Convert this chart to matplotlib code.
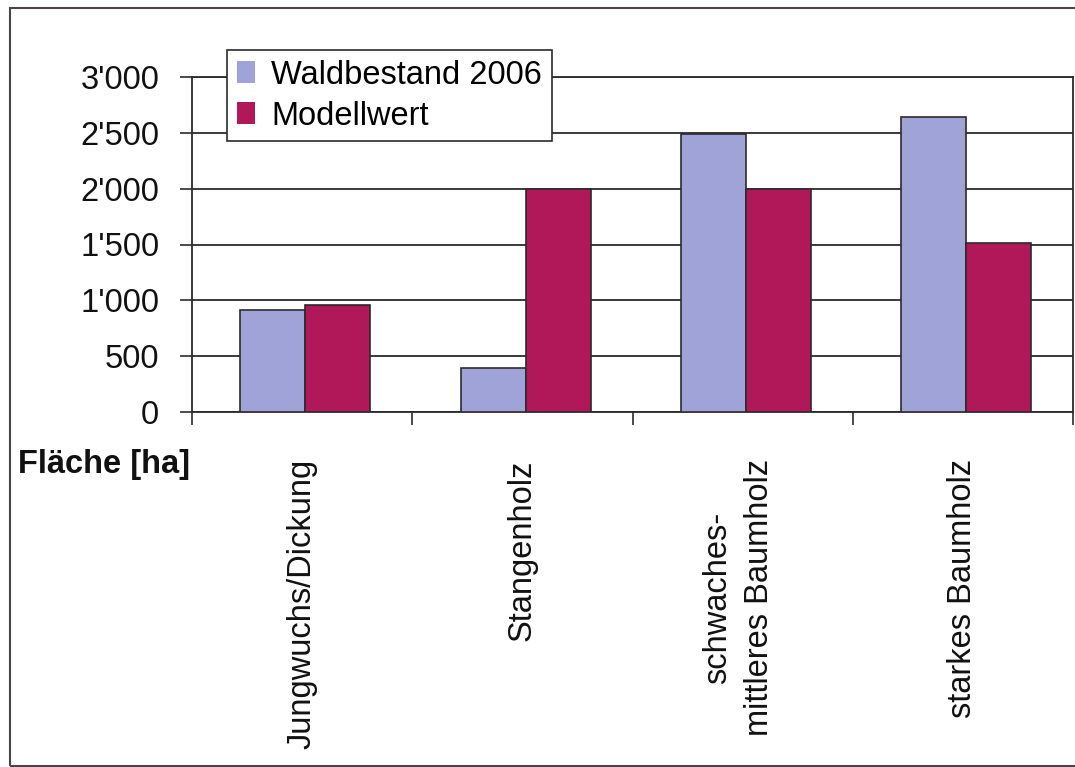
import matplotlib
matplotlib.use("Agg")
import matplotlib.pyplot as plt
from matplotlib.patches import Patch, Rectangle
from matplotlib.ticker import FixedLocator, FuncFormatter, NullFormatter

plt.rcParams["font.family"] = ["Liberation Sans", "DejaVu Sans"]

# Area per development stage (ha)
categories = ["Jungwuchs/Dickung", "Stangenholz", "schwaches-\nmittleres Baumholz", "starkes Baumholz"]
waldbestand_2006 = [910, 395, 2490, 2645]
modellwert = [955, 2000, 2000, 1510]
series_names = ["Waldbestand 2006", "Modellwert"]
y_ticks = [0, 500, 1000, 1500, 2000, 2500, 3000]

col_wald = "#a0a3d8"
col_modell = "#b0185a"
dark = "#2b2b2b"
fs = 23.5

W, H, DPI = 1075, 767, 100
fig = plt.figure(figsize=(W / DPI, H / DPI), dpi=DPI)
fig.patch.set_facecolor("white")

ax = fig.add_axes([192 / W, 1 - 412 / H, (1073 - 192) / W, (412 - 77) / H])

n = len(categories)
centers = [i + 0.5 for i in range(n)]
bw = 0.295
ax.bar([c - bw / 2 + 0.015 for c in centers], waldbestand_2006, width=bw,
       color=col_wald, edgecolor=dark, linewidth=1.2, zorder=3)
ax.bar([c + bw / 2 + 0.015 for c in centers], modellwert, width=bw,
       color=col_modell, edgecolor=dark, linewidth=1.2, zorder=3)

ax.set_xlim(0, n)
ax.set_ylim(0, 3000)
ax.set_axisbelow(True)

# y axis with apostrophe thousands separator
ax.yaxis.set_major_locator(FixedLocator(y_ticks))
ax.yaxis.set_major_formatter(FuncFormatter(lambda v, p: f"{int(v):,}".replace(",", "'")))
ax.tick_params(axis="y", direction="out", length=8.6, width=1.2, color=dark,
               pad=15, labelsize=fs, labelcolor="#111111")
ax.yaxis.grid(True, color=dark, linewidth=1.3)

# category boundary ticks on the x axis
ax.xaxis.set_major_locator(FixedLocator(list(range(n + 1))))
ax.xaxis.set_major_formatter(NullFormatter())
ax.tick_params(axis="x", direction="out", length=9.4, width=1.2, color=dark)

for s in ax.spines.values():
    s.set_color(dark)
    s.set_linewidth(1.3)

# rotated category labels, top-aligned below the axis
for c, lab in zip(centers, categories):
    ax.annotate(lab, xy=(c, 0), xycoords=("data", "axes fraction"),
                xytext=(-3 if "\n" in lab else 0, -34), textcoords="offset points",
                rotation=90, ha="center", va="top", multialignment="center",
                fontsize=fs, color="#111111", linespacing=1.45)

fig.text(18 / W, 1 - 473 / H, "Fläche [ha]", fontsize=fs, fontweight="bold",
         color="#111111", va="baseline", ha="left")

handles = [Patch(facecolor=col_wald, edgecolor="none"),
           Patch(facecolor=col_modell, edgecolor="none")]
leg = ax.legend(handles, series_names, loc="upper left",
                bbox_to_anchor=(227 / W, 1 - 50 / H), bbox_transform=fig.transFigure,
                borderaxespad=0, fontsize=fs, frameon=True, fancybox=False,
                framealpha=1, edgecolor=dark, handlelength=0.55, handleheight=0.65,
                handletextpad=0.5, labelspacing=0.3, borderpad=0.3)
leg.get_frame().set_linewidth(1.2)
leg.set_zorder(5)

# outer border of the figure
fig.patches.append(Rectangle((10 / W, 1 / H), 1.0, (766 - 8) / H,
                             transform=fig.transFigure, fill=False,
                             edgecolor="#4a4448", linewidth=1.5))

fig.savefig("out.png", dpi=DPI)
